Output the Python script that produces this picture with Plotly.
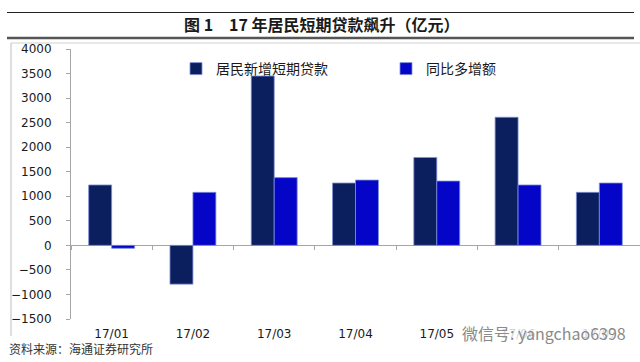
import plotly.graph_objects as go

categories = ["17/01", "17/02", "17/03", "17/04", "17/05", "17/06", "17/07"]
new_short_loans = [1230, -790, 3450, 1270, 1790, 2610, 1080]
yoy_increase = [-60, 1080, 1380, 1330, 1310, 1230, 1270]
y_ticks = [-1500, -1000, -500, 0, 500, 1000, 1500, 2000, 2500, 3000, 3500, 4000]

series_names = ["居民新增短期贷款", "同比多增额"]
title_text = "图 1　17 年居民短期贷款飙升（亿元）"
source_text = "资料来源：海通证券研究所"
watermark_text = "微信号: yangchao6398"

W, H = 640, 362
L, R, T, B = 71, 0, 49, 43
PW, PH = W - L - R, H - T - B


def px(x):
    return (x - L) / PW


def py(y):
    return (H - B - y) / PH


AX_GRAY = "#a6a6a6"
FONT = "DejaVu Sans"
CJK = "Noto Sans CJK SC"

fig = go.Figure()
fig.add_trace(go.Bar(
    x=categories, y=new_short_loans, name=series_names[0],
    marker=dict(color="#0b1f5e", line=dict(color="#7f8fd8", width=0.8)),
))
fig.add_trace(go.Bar(
    x=categories, y=yoy_increase, name=series_names[1],
    marker=dict(color="#0505c8", line=dict(color="#7f8fd8", width=0.8)),
))
# helper trace so that the zero-crossing tick axis is drawn
fig.add_trace(go.Scatter(
    x=categories, y=[0] * len(categories), xaxis="x2", mode="markers",
    marker=dict(opacity=0), showlegend=False, hoverinfo="skip",
))

ymin, ymax = y_ticks[0], y_ticks[-1]

fig.update_layout(
    width=W, height=H,
    margin=dict(l=L, r=R, t=T, b=B, pad=0),
    paper_bgcolor="white", plot_bgcolor="white",
    barmode="group", bargap=0.435, bargroupgap=0,
    font=dict(family=FONT, size=12, color="#1a1a1a"),
    showlegend=True,
    legend=dict(
        orientation="h", x=px(176), y=py(53), xanchor="left", yanchor="top",
        font=dict(family=CJK, size=14, color="#1a1a1a"),
        entrywidth=165, entrywidthmode="pixels",
        bgcolor="rgba(0,0,0,0)", itemclick=False, tracegroupgap=0,
    ),
    xaxis=dict(
        type="category", categoryorder="array", categoryarray=categories,
        range=[-0.5, len(categories) - 0.5],
        showline=False, ticks="", showgrid=False, zeroline=False,
        tickfont=dict(family=FONT, size=12, color="#1a1a1a"),
        ticklabelstandoff=6,
    ),
    xaxis2=dict(
        type="category", categoryorder="array", categoryarray=categories,
        range=[-0.5, len(categories) - 0.5],
        overlaying="x", anchor="free", position=(0 - ymin) / (ymax - ymin),
        showline=False, showgrid=False, zeroline=False,
        ticks="outside", ticklen=4, tickcolor=AX_GRAY, tickwidth=1,
        tickson="boundaries", showticklabels=False,
    ),
    yaxis=dict(
        range=[ymin, ymax], tickvals=y_ticks,
        showline=True, linecolor=AX_GRAY, linewidth=1,
        ticks="outside", ticklen=4, tickcolor=AX_GRAY,
        showgrid=False,
        zeroline=True, zerolinecolor=AX_GRAY, zerolinewidth=1,
        tickfont=dict(family=FONT, size=12, color="#1a1a1a"),
        ticklabelstandoff=12,
    ),
    shapes=[
        # header rule lines
        dict(type="line", xref="paper", yref="paper", x0=px(7), x1=px(634),
             y0=py(12.5), y1=py(12.5), line=dict(color="#222222", width=1)),
        dict(type="line", xref="paper", yref="paper", x0=px(7), x1=px(634),
             y0=py(38), y1=py(38), line=dict(color="#555555", width=2.5)),
        # chart frame (top + left)
        dict(type="line", xref="paper", yref="paper", x0=px(11), x1=px(640),
             y0=py(43), y1=py(43), line=dict(color="#cfcfcf", width=1)),
        dict(type="line", xref="paper", yref="paper", x0=px(11), x1=px(11),
             y0=py(43), y1=py(336), line=dict(color="#bdbdbd", width=1)),
    ],
    annotations=[
        dict(text="<b>" + title_text + "</b>", xref="paper", yref="paper",
             x=px(322), y=py(24), xanchor="center", yanchor="middle",
             showarrow=False, font=dict(family=CJK, size=16, color="#1a1a1a")),
        dict(text=source_text, xref="paper", yref="paper",
             x=px(7), y=py(348), xanchor="left", yanchor="middle",
             showarrow=False, font=dict(family=CJK, size=12, color="#333333")),
        dict(text=watermark_text, xref="paper", yref="paper",
             x=px(628), y=py(333), xanchor="right", yanchor="middle",
             showarrow=False, bgcolor="rgba(255,255,255,0.8)",
             font=dict(family=CJK, size=16, color="#8a8a8a")),
    ],
)

fig.write_html(
    "out.html",
    config={"displayModeBar": False},
    post_script="document.body.style.margin='0';document.body.style.padding='0';",
)
